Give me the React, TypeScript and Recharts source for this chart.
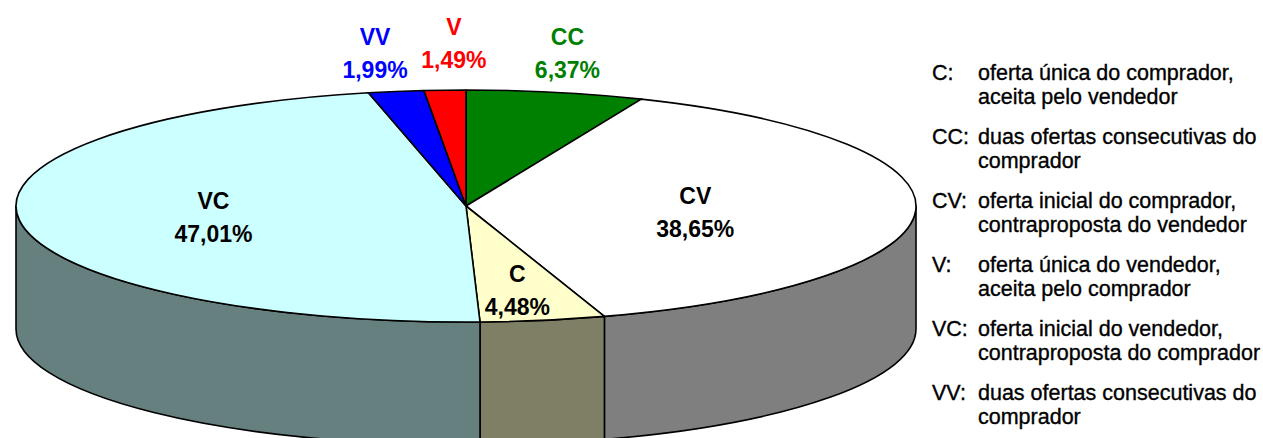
import { Cell, Pie, PieChart } from 'recharts';

const categories = ['CC', 'CV', 'C', 'VC', 'VV', 'V'];
const shares = [6.37, 38.65, 4.48, 47.01, 1.99, 1.49];
const sliceColors = ['#008000', '#FFFFFF', '#FFFFCC', '#CCFFFF', '#0000FF', '#FF0000'];

const legendKeys = ['C:', 'CC:', 'CV:', 'V:', 'VC:', 'VV:'];
const legendTexts = [
  ['oferta única do comprador,', 'aceita pelo vendedor'],
  ['duas ofertas consecutivas do', 'comprador'],
  ['oferta inicial do comprador,', 'contraproposta do vendedor'],
  ['oferta única do vendedor,', 'aceita pelo comprador'],
  ['oferta inicial do vendedor,', 'contraproposta do comprador'],
  ['duas ofertas consecutivas do', 'comprador'],
];

const pieData = categories.map((name, i) => ({ name, share: shares[i] }));

const CX = 461;
const CY = 201;
const RX = 450;
const TILT = 116 / 450; // vertical squash of the pie top
const DEPTH = 123; // height of the cylinder wall
const RAD = Math.PI / 180;
const FONT = '"Liberation Sans", Arial, sans-serif';

// small nudges so labels sit where Excel put them
const labelShift: Record<string, [number, number]> = {
  VC: [-7, 3],
  CV: [-18, 3],
  C: [9, 21],
  VV: [-21, -38],
  V: [9, -47],
  CC: [12, -39],
};

const darken = (hex: string) => {
  const n = parseInt(hex.slice(1), 16);
  const r = ((n >> 16) & 255) >> 1;
  const g = ((n >> 8) & 255) >> 1;
  const b = (n & 255) >> 1;
  return `rgb(${r},${g},${b})`;
};

const renderSlice = (props: any) => {
  const { cx, cy, outerRadius, startAngle, endAngle, fill } = props;
  const rx = outerRadius;
  const ry = rx * TILT;
  const pt = (a: number, dy = 0) => `${cx + rx * Math.cos(a * RAD)},${cy - ry * Math.sin(a * RAD) + dy}`;

  const hi = Math.max(startAngle, endAngle);
  const lo = Math.min(startAngle, endAngle);
  const large = hi - lo > 180 ? 1 : 0;
  const top = `M${cx},${cy} L${pt(hi)} A${rx},${ry} 0 ${large} 1 ${pt(lo)} Z`;

  // front half of the cylinder wall is between -180 and 0 degrees
  const wHi = Math.min(hi, 0);
  const wLo = Math.max(lo, -180);
  let wall: string | null = null;
  if (wHi > wLo) {
    wall =
      `M${pt(wHi)} A${rx},${ry} 0 0 1 ${pt(wLo)} ` +
      `L${pt(wLo, DEPTH)} A${rx},${ry} 0 0 0 ${pt(wHi, DEPTH)} Z`;
  }

  return (
    <g>
      {wall && <path d={wall} fill={darken(fill)} stroke="#000" strokeWidth={1.6} strokeLinejoin="round" />}
      <path d={top} fill={fill} stroke="#000" strokeWidth={1.6} strokeLinejoin="round" />
    </g>
  );
};

const renderLabel = (props: any) => {
  const { cx, cy, midAngle, outerRadius, percent } = props;
  const name: string = props.payload?.name ?? props.name;
  const idx = categories.indexOf(name);
  const share = shares[idx];
  const rx = outerRadius;
  const ry = rx * TILT;
  const c = Math.cos(midAngle * RAD);
  const s = Math.sin(midAngle * RAD);
  const outside = percent < 0.1 && s > 0;
  const r = outside ? 1 : 0.55;
  const [dx, dy] = labelShift[name] ?? [0, 0];
  const x = cx + rx * r * c + dx;
  const y = cy - ry * r * s + dy;
  const color = outside ? sliceColors[idx] : '#000000';
  const pct = `${share.toFixed(2).replace('.', ',')}%`;

  return (
    <g>
      <text x={x} y={y - 16} textAnchor="middle" dominantBaseline="central" fill={color}
        fontFamily={FONT} fontWeight="bold" fontSize={23}>
        {name}
      </text>
      <text x={x} y={y + 17} textAnchor="middle" dominantBaseline="central" fill={color}
        fontFamily={FONT} fontWeight="bold" fontSize={23}>
        {pct}
      </text>
    </g>
  );
};

export default function App() {
  return (
    <div style={{ position: 'absolute', left: 0, top: 0, width: 1263, height: 438, background: '#fff', overflow: 'hidden' }}>
      <PieChart width={1263} height={438}>
        <Pie
          data={pieData}
          dataKey="share"
          nameKey="name"
          cx={CX}
          cy={CY}
          outerRadius={RX}
          startAngle={90}
          endAngle={-270}
          stroke="none"
          label={renderLabel}
          labelLine={false}
          inactiveShape={renderSlice}
          activeShape={renderSlice}
          shape={renderSlice}
          isAnimationActive={false}
        >
          {pieData.map((entry, i) => (
            <Cell key={`cell-${entry.name}`} fill={sliceColors[i]} />
          ))}
        </Pie>
      </PieChart>

      <div style={{
        position: 'absolute', left: 932, top: 61, fontFamily: FONT, fontSize: 21.5, color: '#000',
        WebkitTextStroke: '0.35px #000',
      }}>
        {legendKeys.map((key, i) => (
          <div key={key} style={{ display: 'flex', marginBottom: 16, lineHeight: '24px' }}>
            <div style={{ width: 46 }}>{key}</div>
            <div>
              {legendTexts[i].map((line) => (
                <div key={line} style={{ whiteSpace: 'nowrap' }}>{line}</div>
              ))}
            </div>
          </div>
        ))}
      </div>
    </div>
  );
}
